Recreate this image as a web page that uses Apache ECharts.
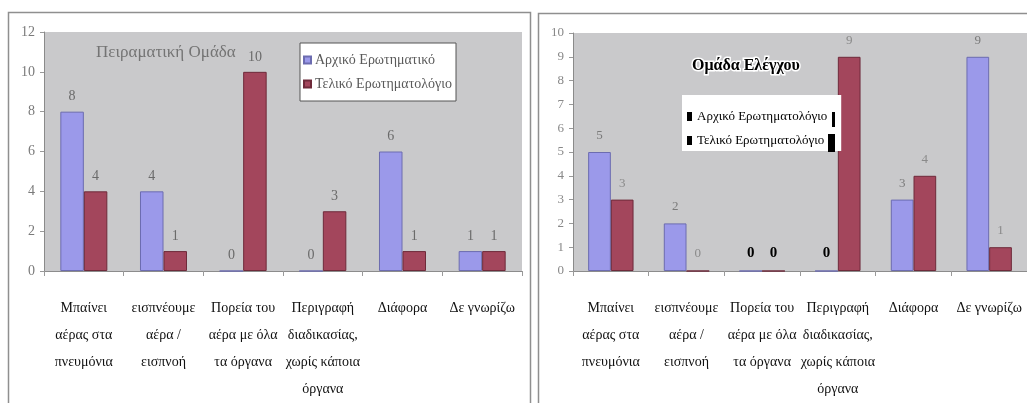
<!DOCTYPE html>
<html>
<head>
<meta charset="utf-8">
<script src="https://cdn.jsdelivr.net/npm/echarts@6/dist/echarts.min.js"></script>
<style>
  html, body { margin: 0; padding: 0; background: #ffffff; }
  #chart { width: 1027px; height: 403px; }
</style>
</head>
<body>
<div id="chart"></div>
<script>
// Categories shared by both groups
const categories = [
  'Μπαίνει\nαέρας στα\nπνευμόνια',
  'εισπνέουμε\nαέρα /\nεισπνοή',
  'Πορεία του\nαέρα με όλα\nτα όργανα',
  'Περιγραφή\nδιαδικασίας,\nχωρίς κάποια\nόργανα',
  'Διάφορα',
  'Δε γνωρίζω'
];

// Experimental group (Πειραματική Ομάδα)
const expTitle = 'Πειραματική Ομάδα';
const expInitialName = 'Αρχικό Ερωτηματικό';
const expFinalName = 'Τελικό Ερωτηματολόγιο';
const expInitial = [8, 4, 0, 0, 6, 1];
const expFinal = [4, 1, 10, 3, 1, 1];

// Control group (Ομάδα Ελέγχου)
const ctrlTitle = 'Ομάδα Ελέγχου';
const ctrlInitialName = 'Αρχικό Ερωτηματολόγιο';
const ctrlFinalName = 'Τελικό Ερωτηματολόγιο';
const ctrlInitial = [5, 2, 0, 0, 3, 9];
const ctrlFinal = [3, 0, 0, 9, 4, 1];

const SERIF = 'Liberation Serif';
const BLUE = '#9b99ea';
const RED = '#a3465c';
const PLOT_BG = '#c9c9cb';

const chart = echarts.init(document.getElementById('chart'), null, { renderer: 'canvas' });

// Zero labels in the later categories of the control group are printed in bold black
function ctrlData(values) {
  return values.map((v, i) => (v === 0 && i >= 2)
    ? { value: v, label: { color: '#000', fontWeight: 'bold', fontFamily: SERIF, fontSize: 15 } }
    : v);
}

const xAxisCommon = {
  type: 'category',
  data: categories,
  axisLine: { lineStyle: { color: '#8c8c8c', width: 1 } },
  axisTick: { show: true, length: 5, lineStyle: { color: '#9a9a9a' } },
  axisLabel: {
    interval: 0, margin: 24, color: '#111', fontFamily: SERIF,
    fontSize: 14, lineHeight: 27
  }
};

const yAxisCommon = {
  type: 'value',
  min: 0,
  splitLine: { show: false },
  axisLine: { show: true, lineStyle: { color: '#8a8a8a' } },
  axisTick: { show: true, length: 4, lineStyle: { color: '#999' } }
};

const barCommon = {
  type: 'bar',
  barGap: '0%',
  barCategoryGap: '41%',
  label: { show: true, position: 'top', distance: 8, fontFamily: SERIF, color: '#6a6a6a' }
};

chart.setOption({
  backgroundColor: '#ffffff',
  animation: false,
  grid: [
    { left: 44, top: 32, width: 478, height: 243, show: true, backgroundColor: PLOT_BG, borderWidth: 0 },
    { left: 573, top: 33, width: 460, height: 242, show: true, backgroundColor: PLOT_BG, borderWidth: 0 }
  ],
  title: [
    { text: expTitle, left: 91, top: 39,
      textStyle: { fontFamily: SERIF, fontSize: 17, fontWeight: 'normal', color: '#747474' } },
    { text: ctrlTitle, left: 687, top: 53,
      textStyle: { fontFamily: SERIF, fontSize: 16, fontWeight: 'bold', color: '#000',
                   textBorderColor: '#ffffff', textBorderWidth: 3 } }
  ],
  legend: [
    {
      orient: 'vertical', left: 300, top: 43,
      padding: [10, 4, 10, 3], itemGap: 10,
      itemWidth: 7, itemHeight: 7, icon: 'rect',
      backgroundColor: '#ffffff', borderColor: '#555', borderWidth: 1,
      data: [expInitialName, expFinalName],
      textStyle: { fontFamily: SERIF, fontSize: 14, color: '#5a5a5a', padding: [0, 0, 0, -1] }
    },
    {
      orient: 'vertical', left: 682, top: 95,
      padding: [15, 14, 4, 5], itemGap: 11,
      itemWidth: 5, itemHeight: 9, icon: 'rect',
      backgroundColor: '#ffffff', borderWidth: 0,
      data: [
        { name: ctrlInitialName, itemStyle: { color: '#000', borderWidth: 0 } },
        { name: ctrlFinalName, itemStyle: { color: '#000', borderWidth: 0 } }
      ],
      textStyle: { fontFamily: SERIF, fontSize: 13, color: '#000' }
    }
  ],
  xAxis: [
    Object.assign({ gridIndex: 0 }, xAxisCommon),
    Object.assign({ gridIndex: 1 }, xAxisCommon)
  ],
  yAxis: [
    Object.assign({ gridIndex: 0, max: 12, interval: 2,
      axisLabel: { fontFamily: SERIF, fontSize: 14, color: '#7a7a7a', margin: 9 } }, yAxisCommon),
    Object.assign({ gridIndex: 1, max: 10, interval: 1,
      axisLabel: { fontFamily: SERIF, fontSize: 13, color: '#888', margin: 9 } }, yAxisCommon)
  ],
  series: [
    Object.assign({}, barCommon, {
      name: expInitialName, xAxisIndex: 0, yAxisIndex: 0, data: expInitial,
      itemStyle: { color: BLUE, borderColor: '#6c6cb0', borderWidth: 1 },
      label: Object.assign({}, barCommon.label, { fontSize: 14 })
    }),
    Object.assign({}, barCommon, {
      name: expFinalName, xAxisIndex: 0, yAxisIndex: 0, data: expFinal,
      itemStyle: { color: RED, borderColor: '#6e2a3a', borderWidth: 1 },
      label: Object.assign({}, barCommon.label, { fontSize: 14 })
    }),
    Object.assign({}, barCommon, {
      name: ctrlInitialName, xAxisIndex: 1, yAxisIndex: 1, data: ctrlData(ctrlInitial),
      barCategoryGap: '40%',
      itemStyle: { color: BLUE, borderColor: '#6c6cb0', borderWidth: 1 },
      label: Object.assign({}, barCommon.label, { fontSize: 13, distance: 10, color: '#7a7a7a' })
    }),
    Object.assign({}, barCommon, {
      name: ctrlFinalName, xAxisIndex: 1, yAxisIndex: 1, data: ctrlData(ctrlFinal),
      barCategoryGap: '40%',
      itemStyle: { color: RED, borderColor: '#6e2a3a', borderWidth: 1 },
      label: Object.assign({}, barCommon.label, { fontSize: 13, distance: 10, color: '#8a8a8a' })
    })
  ],
  graphic: [
    // chart frames
    { type: 'rect', z: 0, silent: true,
      shape: { x: 8.5, y: 12.5, width: 522, height: 460 },
      style: { fill: null, stroke: '#8f8f8f', lineWidth: 1.5 } },
    { type: 'rect', z: 0, silent: true,
      shape: { x: 538.5, y: 13.5, width: 560, height: 460 },
      style: { fill: null, stroke: '#8f8f8f', lineWidth: 1.5 } },
    // marker strokes at the end of the control legend entries
    { type: 'rect', z: 10, silent: true,
      shape: { x: 832, y: 112, width: 3, height: 15 }, style: { fill: '#000' } },
    { type: 'rect', z: 10, silent: true,
      shape: { x: 828, y: 134, width: 7, height: 18 }, style: { fill: '#000' } }
  ]
});
</script>
</body>
</html>
